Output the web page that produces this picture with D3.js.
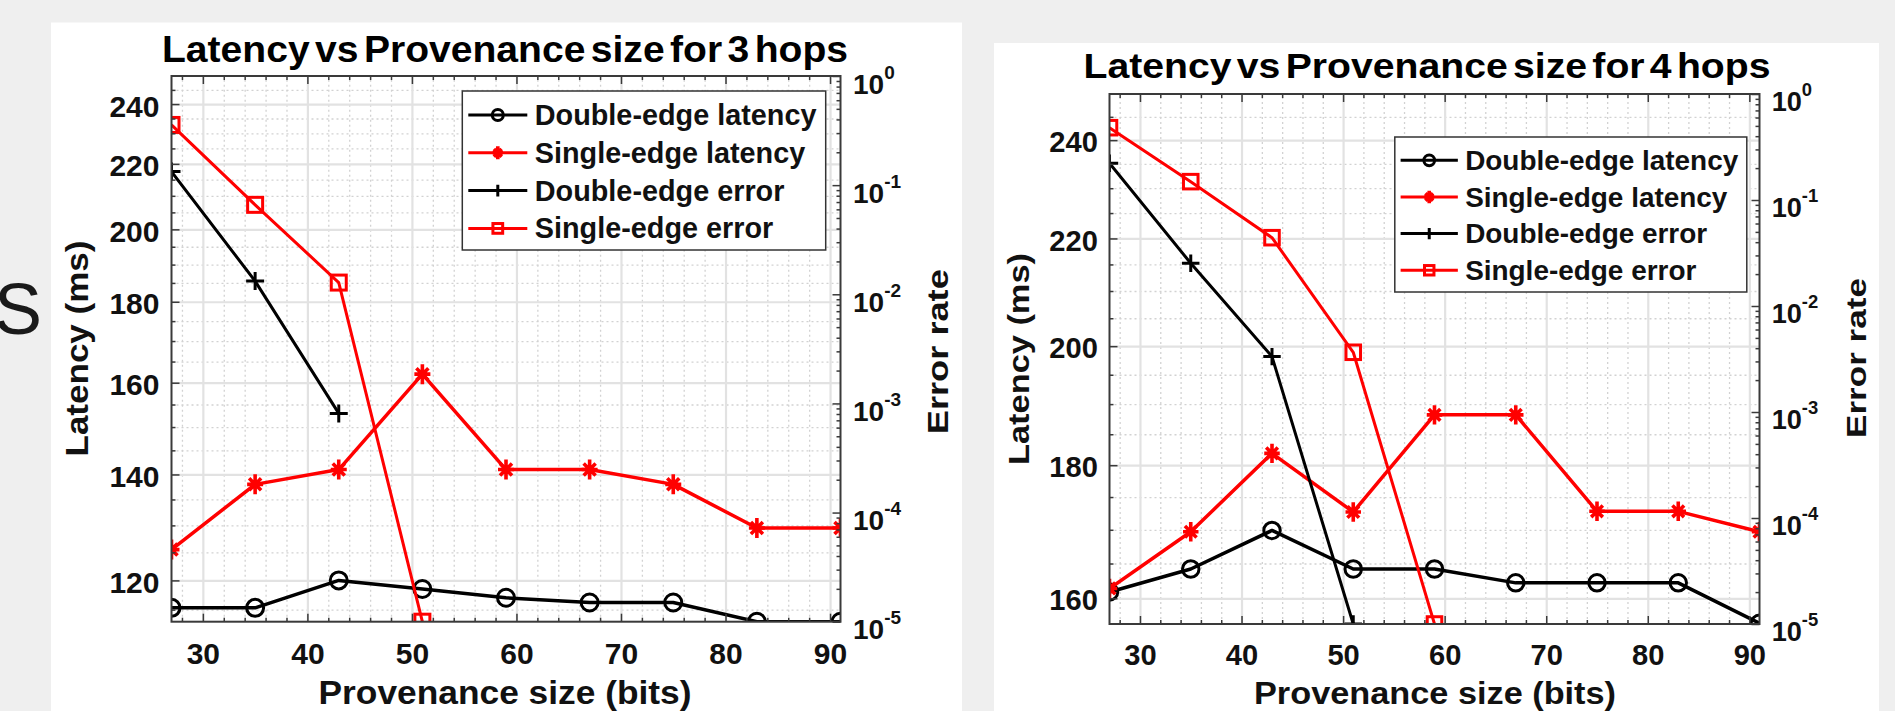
<!DOCTYPE html>
<html>
<head>
<meta charset="utf-8">
<script src="https://cdn.jsdelivr.net/npm/d3@7"></script>
<style>
body { margin: 0; background: #efefef; }
svg { display: block; font-family: "Liberation Sans", Arial, sans-serif; }
</style>
</head>
<body>
<svg id="chart" width="1895" height="711"></svg>
<script>
// values
let bits = [27, 35, 43, 51, 59, 67, 75, 83, 91];
let xTicks = [30, 40, 50, 60, 70, 80, 90];
let latencyTicks3 = [120, 140, 160, 180, 200, 220, 240];
let latencyTicks4 = [160, 180, 200, 220, 240];
let errorTicks = [1e-5, 1e-4, 1e-3, 1e-2, 1e-1, 1];
let errorExponents = ["-5", "-4", "-3", "-2", "-1", "0"];

let titles = ["Latency vs Provenance size for 3 hops", "Latency vs Provenance size for 4 hops"];
let legendLabels = ["Double-edge latency", "Single-edge latency", "Double-edge error", "Single-edge error"];
let sideLetter = "S";

// 3 hops
let doubleLatency3 = [115.3, 115.3, 120, 118.5, 117, 116.2, 116.2, 113, 113];
let singleLatency3 = [125.5, 138, 141, 162, 141, 141, 138, 129.5, 129.5];
let doubleError3 = [0.133, 0.0132, 0.00081];
let singleError3 = [0.356, 0.066, 0.0128, 1e-5];

// 4 hops
let doubleLatency4 = [160.9, 164.2, 169.9, 164.2, 164.2, 162.2, 162.2, 162.2, 156.5];
let singleLatency4 = [161.4, 169.7, 181.9, 172.7, 188.2, 188.2, 172.8, 172.8, 169.7];
let doubleError4 = [0.222, 0.0253, 0.00333, 1e-5];
let singleError4 = [0.481, 0.149, 0.0441, 0.00366, 1e-5];

const svg = d3.select("#chart");
svg.append("rect").attr("width", 1895).attr("height", 711).attr("fill", "#efefef");
svg.append("text").text(sideLetter)
    .attr("x", -6).attr("y", 334)
    .style("font-family", "'Liberation Sans', Arial, sans-serif")
    .style("font-weight", "400")
    .style("font-size", "72px").attr("fill", "#1a1a1a");

function marker(sel, type, color, s) {
    if (type == "circle") {
        sel.append("circle").attr("r", 8.5 * s).attr("fill", "none")
            .attr("stroke", color).attr("stroke-width", 3);
    } else if (type == "star") {
        sel.append("path")
            .attr("d", `M${-8*s},0H${8*s}M0,${-10*s}V${10*s}M${-6*s},${-6*s}L${6*s},${6*s}M${-6*s},${6*s}L${6*s},${-6*s}`)
            .attr("stroke", color).attr("stroke-width", 3.6).attr("fill", "none");
    } else if (type == "plus") {
        sel.append("path")
            .attr("d", `M${-9*s},0H${9*s}M0,${-9*s}V${9*s}`)
            .attr("stroke", color).attr("stroke-width", 3).attr("fill", "none");
    } else {
        sel.append("rect").attr("x", -7.5 * s).attr("y", -7.5 * s)
            .attr("width", 15 * s).attr("height", 15 * s).attr("fill", "none")
            .attr("stroke", color).attr("stroke-width", 3);
    }
}

function gridStyle(sel, color, width, dash) {
    sel.select(".domain").remove();
    sel.selectAll(".tick line").attr("stroke", color).attr("stroke-width", width)
        .attr("stroke-dasharray", dash);
}

function tickStyle(sel) {
    sel.select(".domain").remove();
    sel.selectAll(".tick line").attr("stroke", "#3a3a3a").attr("stroke-width", 1.5);
}

function drawPanel(o) {
    let s = o.k;
    let [L, T, R, B] = o.plot;
    let W = R - L, H = B - T;

    svg.append("rect").attr("x", o.panel[0]).attr("y", o.panel[1])
        .attr("width", o.panel[2]).attr("height", o.panel[3]).attr("fill", "#fff");

    let g = svg.append("g");

    let x = d3.scaleLinear().domain([27, 91]).range([L, R]);
    let y = d3.scaleLog().domain(o.latDomain).range([B, T]);
    let yErr = d3.scaleLog().domain([1e-5, 1]).range([B, T]);

    let xMinor = d3.range(28, 91, 2).filter(v => v % 10 != 0);
    let latMinor = d3.range(Math.ceil(o.latDomain[0] / 5) * 5, o.latDomain[1], 5).filter(v => v % 20 != 0);
    let errMinor = d3.range(-5, 0).flatMap(e => d3.range(2, 10).map(m => m * Math.pow(10, e)));

    // grid
    g.append("g").attr("transform", `translate(0,${B})`)
        .call(d3.axisBottom(x).tickValues(xMinor).tickSizeInner(-H).tickSizeOuter(0).tickFormat(""))
        .call(gridStyle, "#d2d2d2", 1.3, "2,3");
    g.append("g").attr("transform", `translate(${L},0)`)
        .call(d3.axisLeft(y).tickValues(latMinor).tickSizeInner(-W).tickSizeOuter(0).tickFormat(""))
        .call(gridStyle, "#d2d2d2", 1.3, "2,3");
    g.append("g").attr("transform", `translate(0,${B})`)
        .call(d3.axisBottom(x).tickValues(xTicks).tickSizeInner(-H).tickSizeOuter(0).tickFormat(""))
        .call(gridStyle, "#e2e2e2", 2.2, null);
    g.append("g").attr("transform", `translate(${L},0)`)
        .call(d3.axisLeft(y).tickValues(o.latTicks).tickSizeInner(-W).tickSizeOuter(0).tickFormat(""))
        .call(gridStyle, "#e2e2e2", 2.2, null);

    // series
    g.append("clipPath").attr("id", "clip" + o.id)
        .append("rect").attr("x", L).attr("y", T).attr("width", W).attr("height", H);
    let plot = g.append("g").attr("clip-path", `url(#clip${o.id})`);

    let series = [
        { values: o.series[0], scale: y, color: "#000", type: "circle", lw: 3.5 },
        { values: o.series[1], scale: y, color: "#ff0000", type: "star", lw: 3.5 },
        { values: o.series[2], scale: yErr, color: "#000", type: "plus", lw: 3 },
        { values: o.series[3], scale: yErr, color: "#ff0000", type: "square", lw: 3 }
    ];
    series.forEach(sr => {
        let line = d3.line().x((d, i) => x(bits[i])).y(d => sr.scale(d));
        plot.append("path").datum(sr.values).attr("d", line)
            .attr("fill", "none").attr("stroke", sr.color).attr("stroke-width", sr.lw)
            .attr("stroke-linejoin", "round");
        plot.selectAll(null).data(sr.values).enter().append("g")
            .attr("transform", (d, i) => `translate(${x(bits[i])},${sr.scale(d)})`)
            .each(function () { marker(d3.select(this), sr.type, sr.color, s); });
    });

    // axes (ticks inside the box)
    let tickFont = 30 * s;
    let xb = g.append("g").attr("transform", `translate(0,${B})`)
        .call(d3.axisBottom(x).tickValues(xTicks).tickSizeInner(-8).tickSizeOuter(0)
            .tickPadding(o.xTickBase - 0.71 * tickFont).tickFormat(d3.format("d")))
        .call(tickStyle);
    g.append("g").attr("transform", `translate(0,${B})`)
        .call(d3.axisBottom(x).tickValues(xMinor).tickSizeInner(-4).tickSizeOuter(0).tickFormat(""))
        .call(tickStyle);
    g.append("g").attr("transform", `translate(0,${T})`)
        .call(d3.axisTop(x).tickValues(xTicks).tickSizeInner(-8).tickSizeOuter(0).tickFormat(""))
        .call(tickStyle);
    g.append("g").attr("transform", `translate(0,${T})`)
        .call(d3.axisTop(x).tickValues(xMinor).tickSizeInner(-4).tickSizeOuter(0).tickFormat(""))
        .call(tickStyle);

    let yl = g.append("g").attr("transform", `translate(${L},0)`)
        .call(d3.axisLeft(y).tickValues(o.latTicks).tickSizeInner(-8).tickSizeOuter(0)
            .tickPadding(12 * s).tickFormat(d3.format("d")))
        .call(tickStyle);
    g.append("g").attr("transform", `translate(${L},0)`)
        .call(d3.axisLeft(y).tickValues(latMinor).tickSizeInner(-4).tickSizeOuter(0).tickFormat(""))
        .call(tickStyle);

    let yr = g.append("g").attr("transform", `translate(${R},0)`)
        .call(d3.axisRight(yErr).tickValues(errorTicks).tickSizeInner(-8).tickSizeOuter(0).tickFormat(""))
        .call(tickStyle);
    g.append("g").attr("transform", `translate(${R},0)`)
        .call(d3.axisRight(yErr).tickValues(errMinor).tickSizeInner(-4).tickSizeOuter(0).tickFormat(""))
        .call(tickStyle);

    [xb, yl].forEach(a => a.selectAll(".tick text")
        .attr("font-size", tickFont).attr("font-weight", "bold").attr("fill", "#111")
        .attr("font-family", "Liberation Sans, Arial, sans-serif"));
    yl.selectAll(".tick text").attr("dy", "0.40em");

    yr.selectAll(".tick").each(function (d) {
        let t = d3.select(this).append("text")
            .attr("x", 12.5 * s).attr("y", 17 * s)
            .attr("font-size", 28 * s).attr("font-weight", "bold").attr("fill", "#111");
        t.append("tspan").text("10");
        t.append("tspan").attr("dy", -15 * s).attr("font-size", 19 * s)
            .text(errorExponents[errorTicks.indexOf(d)]);
    });

    // box
    g.append("rect").attr("x", L).attr("y", T).attr("width", W).attr("height", H)
        .attr("fill", "none").attr("stroke", "#3a3a3a").attr("stroke-width", 2);

    // titles and labels
    g.append("text").text(o.title)
        .attr("x", o.titleAt[0]).attr("y", o.titleAt[1]).attr("text-anchor", "middle")
        .attr("font-size", 36 * s).attr("font-weight", "bold").attr("word-spacing", -5)
        .attr("textLength", o.titleAt[2]).attr("lengthAdjust", "spacingAndGlyphs");
    g.append("text").text("Latency (ms)")
        .attr("transform", `translate(${o.yLabelAt[0]},${o.yLabelAt[1]}) rotate(-90)`)
        .attr("text-anchor", "middle").attr("font-size", 31 * s).attr("font-weight", "bold")
        .attr("fill", "#111")
        .attr("textLength", o.yLabelAt[2]).attr("lengthAdjust", "spacingAndGlyphs");
    g.append("text").text("Provenance size (bits)")
        .attr("x", o.xLabelAt[0]).attr("y", o.xLabelAt[1]).attr("text-anchor", "middle")
        .attr("font-size", 33 * s).attr("font-weight", "bold").attr("fill", "#111")
        .attr("textLength", o.xLabelAt[2]).attr("lengthAdjust", "spacingAndGlyphs");
    g.append("text").text("Error rate")
        .attr("transform", `translate(${o.errLabelAt[0]},${o.errLabelAt[1]}) rotate(-90)`)
        .attr("text-anchor", "middle").attr("font-size", 29 * s).attr("font-weight", "bold")
        .attr("fill", "#111")
        .attr("textLength", o.errLabelAt[2]).attr("lengthAdjust", "spacingAndGlyphs");

    // legend
    let [lx, ly, lw, lh] = o.legend;
    let lg = g.append("g");
    lg.append("rect").attr("x", lx).attr("y", ly).attr("width", lw).attr("height", lh)
        .attr("fill", "#fff").attr("stroke", "#333").attr("stroke-width", 1.5);
    legendLabels.forEach((lab, i) => {
        let sr = series[i];
        let ey = ly + 24 * s + i * 37.8 * s;
        lg.append("line").attr("x1", lx + 6 * s).attr("x2", lx + 65 * s)
            .attr("y1", ey).attr("y2", ey).attr("stroke", sr.color).attr("stroke-width", 3);
        let m = lg.append("g").attr("transform", `translate(${lx + 35.5 * s},${ey})`);
        marker(m, sr.type, sr.color, 0.65 * s);
        lg.append("text").text(lab).attr("x", lx + 72.5 * s).attr("y", ey + 10 * s)
            .attr("font-size", 28.8 * s).attr("font-weight", "bold").attr("fill", "#111");
    });
}

drawPanel({
    id: "h3", k: 1,
    panel: [51, 22.5, 911, 700],
    plot: [171.5, 76, 840.5, 621.7],
    latDomain: [113, 250], latTicks: latencyTicks3,
    series: [doubleLatency3, singleLatency3, doubleError3, singleError3],
    title: titles[0], titleAt: [505, 61.7, 686],
    yLabelAt: [88.3, 348.5, 216],
    xLabelAt: [505, 704, 373],
    errLabelAt: [948.3, 351.7, 165],
    xTickBase: 42.3,
    legend: [462.3, 91, 363.4, 159]
});

drawPanel({
    id: "h4", k: 0.97,
    panel: [994, 43, 885, 668],
    plot: [1109.5, 94, 1759.5, 624],
    latDomain: [156.4, 250], latTicks: latencyTicks4,
    series: [doubleLatency4, singleLatency4, doubleError4, singleError4],
    title: titles[1], titleAt: [1427, 77.5, 687],
    yLabelAt: [1028.8, 359, 212],
    xLabelAt: [1435, 704, 362],
    errLabelAt: [1866, 358, 160],
    xTickBase: 41,
    legend: [1394.8, 137, 352, 155]
});
</script>
</body>
</html>
